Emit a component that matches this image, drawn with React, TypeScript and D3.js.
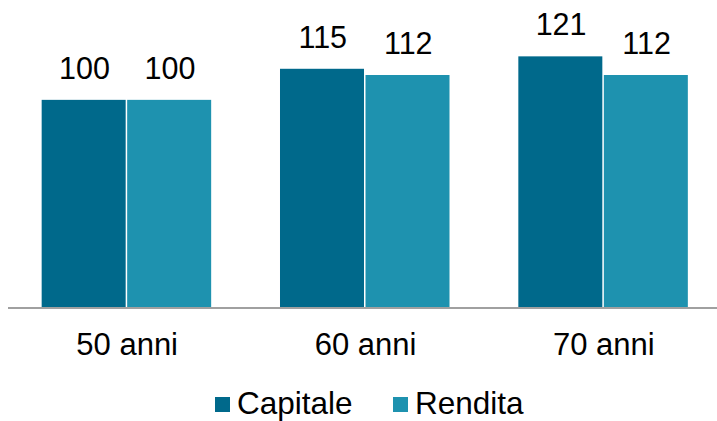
import React from 'react';
import * as d3 from 'd3';

const categories = ['50 anni', '60 anni', '70 anni'];
const series = ['Capitale', 'Rendita'];
const capitale = [100, 115, 121];
const rendita = [100, 112, 112];

const colors: Record<string, string> = { Capitale: '#00698B', Rendita: '#1E92AF' };

const W = 717;
const H = 421;

const App = () => {
  const x = d3.scaleBand().domain(categories).range([8, 723]).paddingInner(0.2825).paddingOuter(0.14125);
  const xs = d3.scaleBand().domain(series).range([0, x.bandwidth()]);
  const y = d3.scaleLinear().domain([0, 140]).range([307, 17]);

  const values: Record<string, number[]> = { Capitale: capitale, Rendita: rendita };
  const font = '"Liberation Sans", Arial, sans-serif';

  const legendX = [215, 393];

  return (
    <svg width={W} height={H} style={{ position: 'absolute', left: 0, top: 0 }} fontFamily={font}>
      {categories.map((c, i) => (
        <g key={c} transform={`translate(${x(c)},0)`}>
          {series.map(s => {
            const v = values[s][i];
            const bx = xs(s)!;
            return (
              <g key={s}>
                <rect x={bx} y={y(v)} width={xs.bandwidth() - 1.5} height={y(0) - y(v)} fill={colors[s]} />
                <text x={bx + xs.bandwidth() / 2} y={y(v) - 21} textAnchor="middle" fontSize={30.5} fill="#000">
                  {v}
                </text>
              </g>
            );
          })}
          <text x={x.bandwidth() / 2} y={355} textAnchor="middle" fontSize={31} fill="#000">
            {c}
          </text>
        </g>
      ))}
      <line x1={8} x2={W} y1={308} y2={308} stroke="#A0A0A0" strokeWidth={2} />
      {series.map((s, i) => (
        <g key={s} transform={`translate(${legendX[i]},0)`}>
          <rect x={0} y={397} width={15} height={15} fill={colors[s]} />
          <text x={22} y={414} fontSize={31.5} fill="#000">{s}</text>
        </g>
      ))}
    </svg>
  );
};

export default App;
